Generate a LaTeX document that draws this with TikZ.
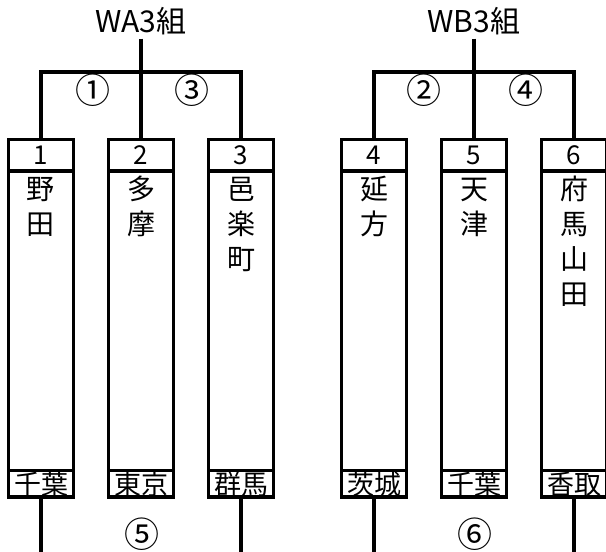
\documentclass[tikz,border=0pt]{standalone}
\usepackage{fontspec}
\setmainfont{Noto Sans CJK JP}
\usetikzlibrary{positioning}

\tikzset{
  team/.style = {draw, line width=3.3pt, minimum width=65pt, minimum height=357.5pt, inner sep=0pt, outer sep=0pt},
  bar/.style = {line width=3.3pt},
  seed/.style = {font=\fontsize{26}{26}\selectfont, anchor=base, inner sep=0pt},
  kanji/.style = {font=\fontsize{28}{28}\selectfont, anchor=base, inner sep=0pt},
  place/.style = {font=\fontsize{27}{27}\selectfont, anchor=base, inner sep=0pt},
  title/.style = {font=\fontsize{30}{30}\selectfont, anchor=base, inner sep=3pt},
  round/.style = {font=\fontsize{35}{35}\selectfont, anchor=base, inner sep=0pt}
}

\begin{document}
\begin{tikzpicture}[x=1pt, y=1pt]
    \useasboundingbox (0,0) rectangle (606,552);
    \clip (0,0) rectangle (606,552);

    % teams
    \foreach \i/\cx/\home/\pref in {1/41/{野,田}/千葉, 2/141/{多,摩}/東京, 3/241/{邑,楽,町}/群馬,
                                    4/374/{延,方}/茨城, 5/474/{天,津}/千葉, 6/574/{府,馬,山,田}/香取}{
        \node[team] (b\i) at (\cx,233.75) {};
        \draw[bar] ([yshift=-31.5pt]b\i.north west) -- ([yshift=-31.5pt]b\i.north east);
        \draw[bar] ([yshift=26.5pt]b\i.south west) -- ([yshift=26.5pt]b\i.south east);
        \node[seed] (s\i) at (\cx,387) {\i};
        \foreach \ch [count=\k] in \home
            \node[kanji] (n\i-\k) at (\cx,{352-35*(\k-1)}) {\ch};
        \node[place] (p\i) at (\cx,57) {\pref};
    }

    % groups
    \node[title] (wa) at (141,519) {WA3組};
    \node[title] (wb) at (474,519) {WB3組};
    \draw[bar] (wa.south) -- (b2.north);
    \draw[bar] (b1.north) -- ++(0,67.5) -| (b3.north);
    \draw[bar] (wb.south) -- (b5.north);
    \draw[bar] (b4.north) -- ++(0,67.5) -| (b6.north);

    % match numbers
    \node[round] (m1) at (92.5,448) {①};
    \node[round] (m3) at (191.5,448) {③};
    \node[round] (m2) at (424,448) {②};
    \node[round] (m4) at (525.5,448) {④};

    % final
    \coordinate (e1) at (41,-5);
    \coordinate (e3) at (241,-5);
    \coordinate (e4) at (374,-5);
    \coordinate (e6) at (574,-5);
    \draw[bar] (b1.south) -- (e1);
    \draw[bar] (b3.south) -- (e3);
    \draw[bar] (b4.south) -- (e4);
    \draw[bar] (b6.south) -- (e6);
    \node[round] (m5) at (142,4) {⑤};
    \node[round] (m6) at (475,4) {⑥};
\end{tikzpicture}
\end{document}
